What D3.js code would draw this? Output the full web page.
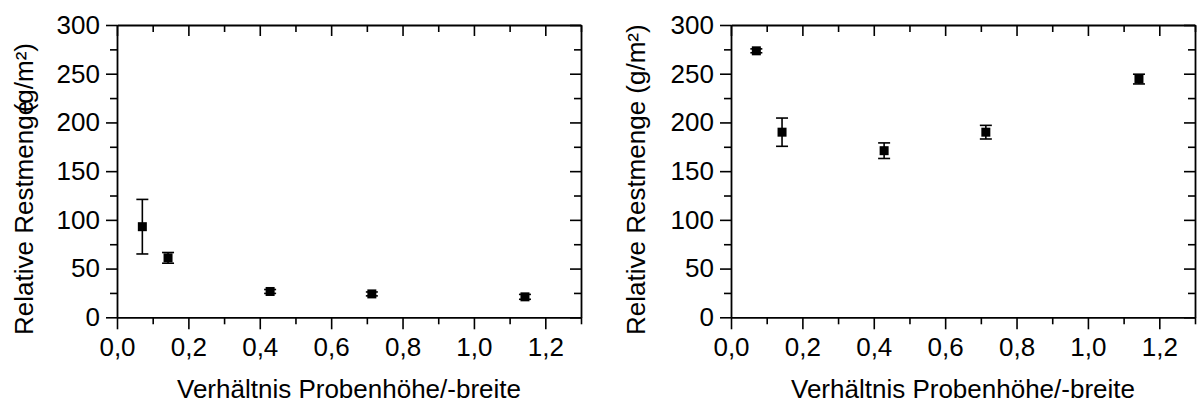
<!DOCTYPE html>
<html>
<head>
<meta charset="utf-8">
<script src="https://cdn.jsdelivr.net/npm/d3@7"></script>
<style>
  html, body { margin: 0; padding: 0; background: #fff; }
  svg { display: block; }
  text { font-family: "Liberation Sans", Arial, sans-serif; fill: #000; }
</style>
</head>
<body>
<svg id="chart" width="1200" height="405"></svg>
<script>
// Aspect ratio of the samples (height / width)
const ratio = [0.071, 0.143, 0.429, 0.714, 1.143];

// Left panel: residual amount with standard deviation
const leftMean = [93, 61, 26.5, 24, 21];
const leftErr = [28, 5.5, 2, 2, 2.5];

// Right panel: residual amount with standard deviation
const rightMean = [273.5, 190, 171, 190, 244.5];
const rightErr = [2, 14.5, 8, 7, 5];

// Tick values
const xMajor = [0, 0.2, 0.4, 0.6, 0.8, 1.0, 1.2];
const xMinor = [0.1, 0.3, 0.5, 0.7, 0.9, 1.1, 1.3];
const yMajor = [0, 50, 100, 150, 200, 250, 300];
const yMinor = [25, 75, 125, 175, 225, 275];

const xTitle = "Verhältnis Probenhöhe/-breite";
const yTitleMain = "Relative Restmenge";
const yTitleUnit = "(g/m²)";

const svg = d3.select("#chart");
const fmtX = v => d3.format(".1f")(v).replace(".", ",");

function panel(opts) {
  const { left, right, top, bottom, mean, err, labelX, squeezeLabel } = opts;
  const x = d3.scaleLinear().domain([0, 1.3]).range([left, right]);
  const y = d3.scaleLinear().domain([0, 300]).range([bottom, top]);
  const g = svg.append("g");

  const styleAxis = sel => {
    sel.select(".domain").attr("stroke", "#000").attr("stroke-width", 1.8);
    sel.selectAll(".tick line").attr("stroke", "#000").attr("stroke-width", 1.6);
    sel.selectAll(".tick text").style("font-size", "26px")
      .style("font-family", '"Liberation Sans", Arial, sans-serif').attr("fill", "#000");
  };

  // bottom axis: outward ticks with labels
  g.append("g").attr("transform", `translate(0,${bottom})`)
    .call(d3.axisBottom(x).tickValues(xMajor).tickSize(12).tickSizeOuter(0).tickPadding(5).tickFormat(fmtX))
    .call(styleAxis)
    .call(s => s.selectAll(".tick text").attr("dy", "0.71em").attr("y", 20));
  g.append("g").attr("transform", `translate(0,${bottom})`)
    .call(d3.axisBottom(x).tickValues(xMinor).tickSize(7).tickSizeOuter(0).tickFormat(""))
    .call(styleAxis).call(s => s.select(".domain").remove());

  // top axis: inward ticks
  g.append("g").attr("transform", `translate(0,${top})`)
    .call(d3.axisBottom(x).tickValues(xMajor).tickSize(11).tickSizeOuter(0).tickFormat(""))
    .call(styleAxis);
  g.append("g").attr("transform", `translate(0,${top})`)
    .call(d3.axisBottom(x).tickValues(xMinor).tickSize(7).tickSizeOuter(0).tickFormat(""))
    .call(styleAxis).call(s => s.select(".domain").remove());

  // left axis: outward ticks with labels
  g.append("g").attr("transform", `translate(${left},0)`)
    .call(d3.axisLeft(y).tickValues(yMajor).tickSize(11).tickSizeOuter(0).tickPadding(6).tickFormat(d3.format("d")))
    .call(styleAxis);
  g.append("g").attr("transform", `translate(${left},0)`)
    .call(d3.axisLeft(y).tickValues(yMinor).tickSize(7).tickSizeOuter(0).tickFormat(""))
    .call(styleAxis).call(s => s.select(".domain").remove());

  // right axis: inward ticks
  g.append("g").attr("transform", `translate(${right},0)`)
    .call(d3.axisLeft(y).tickValues(yMajor).tickSize(11).tickSizeOuter(0).tickFormat(""))
    .call(styleAxis);
  g.append("g").attr("transform", `translate(${right},0)`)
    .call(d3.axisLeft(y).tickValues(yMinor).tickSize(7).tickSizeOuter(0).tickFormat(""))
    .call(styleAxis).call(s => s.select(".domain").remove());

  // error bars
  const data = ratio.map((r, i) => ({ r, m: mean[i], e: err[i] }));
  const cap = 6;
  const eb = g.append("g").attr("stroke", "#000").attr("stroke-width", 1.6);
  eb.selectAll("line.v").data(data).join("line").attr("class", "v")
    .attr("x1", d => x(d.r)).attr("x2", d => x(d.r))
    .attr("y1", d => y(d.m + d.e)).attr("y2", d => y(d.m - d.e));
  eb.selectAll("line.t").data(data).join("line").attr("class", "t")
    .attr("x1", d => x(d.r) - cap).attr("x2", d => x(d.r) + cap)
    .attr("y1", d => y(d.m + d.e)).attr("y2", d => y(d.m + d.e));
  eb.selectAll("line.b").data(data).join("line").attr("class", "b")
    .attr("x1", d => x(d.r) - cap).attr("x2", d => x(d.r) + cap)
    .attr("y1", d => y(d.m - d.e)).attr("y2", d => y(d.m - d.e));

  // square markers
  const s = 9;
  g.selectAll("rect.pt").data(data).join("rect").attr("class", "pt")
    .attr("x", d => x(d.r) - s / 2).attr("y", d => y(d.m) - s / 2)
    .attr("width", s).attr("height", s).attr("fill", "#000");

  // axis titles
  g.append("text").attr("x", (left + right) / 2).attr("y", 398)
    .attr("text-anchor", "middle").style("font-size", "26px").text(xTitle);

  const yt = g.append("g").attr("transform", `translate(${labelX},335) rotate(-90)`);
  if (squeezeLabel) {
    yt.append("text").attr("x", 0).attr("y", 0).style("font-size", "26px").text(yTitleMain);
    yt.append("text").attr("x", 292).attr("y", 0).attr("text-anchor", "end")
      .style("font-size", "26px").text(yTitleUnit);
  } else {
    yt.append("text").attr("x", 0).attr("y", 0).style("font-size", "26px")
      .text(yTitleMain + " " + yTitleUnit);
  }
}

panel({ left: 117, right: 581, top: 25, bottom: 317.3, mean: leftMean, err: leftErr, labelX: 33, squeezeLabel: true });
panel({ left: 731, right: 1195, top: 25, bottom: 317.3, mean: rightMean, err: rightErr, labelX: 645, squeezeLabel: false });
</script>
</body>
</html>
